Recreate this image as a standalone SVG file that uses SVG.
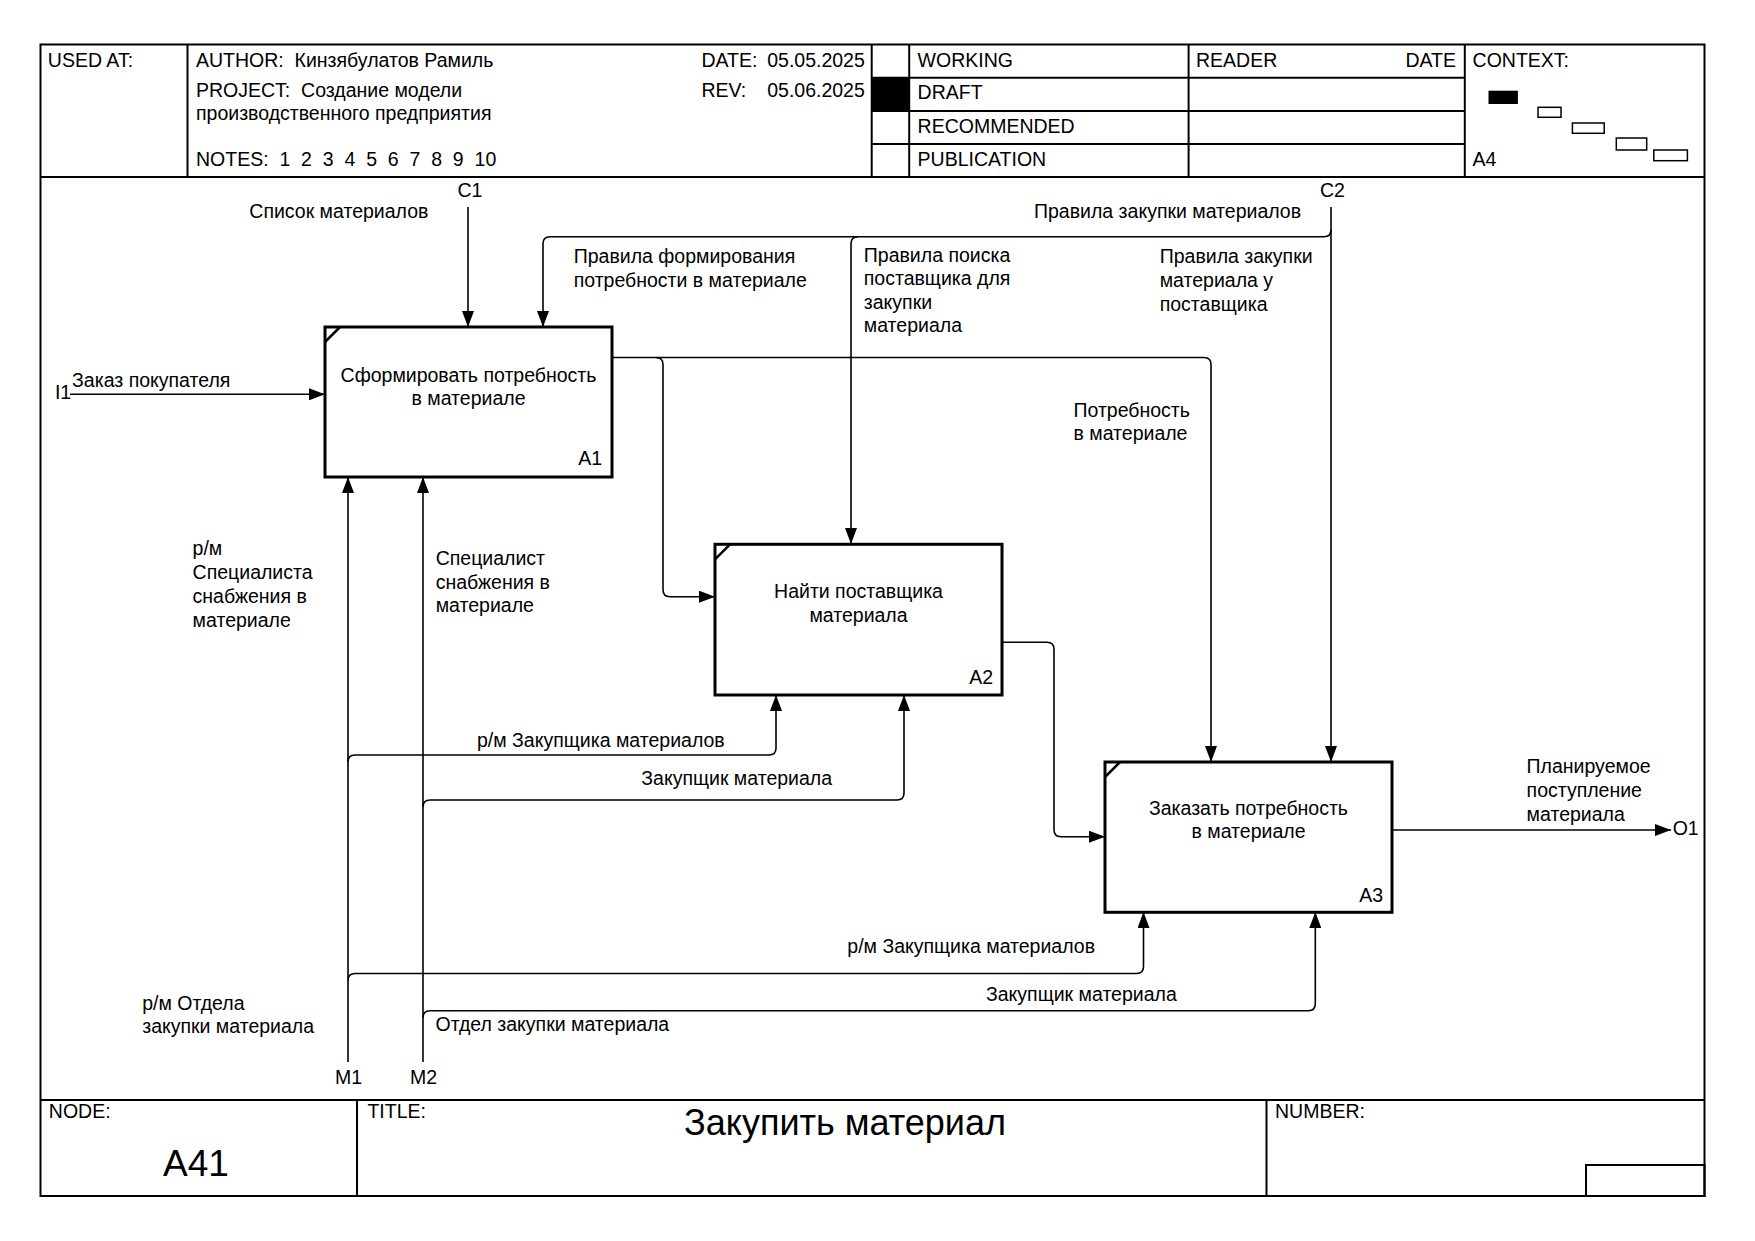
<svg xmlns="http://www.w3.org/2000/svg" width="1755" height="1241" viewBox="0 0 1755 1241">
<style>
text{font-family:"Liberation Sans",Arial,sans-serif;font-size:19.5px;fill:#000}
.frame{fill:none;stroke:#000;stroke-width:2}
.box{fill:#fff;stroke:#000;stroke-width:3}
.cn{fill:none;stroke:#000;stroke-width:1.6}
.ar{marker-end:url(#ah)}
.mid{text-anchor:middle}
.end{text-anchor:end}
</style>
<defs>
<marker id="ah" markerUnits="userSpaceOnUse" viewBox="0 0 16 12" refX="16" refY="6" markerWidth="16" markerHeight="12" orient="auto">
<path d="M0,0 L16,6 L0,12 Z" fill="#000"/>
</marker>
</defs>
<rect width="1755" height="1241" fill="#fff"/>
<g id="frame">
<rect class="frame" x="40.5" y="44.5" width="1664" height="1151.5"/>
<line class="frame" x1="40.5" y1="177" x2="1704.5" y2="177"/>
<line class="frame" x1="40.5" y1="1100" x2="1704.5" y2="1100"/>
<line class="frame" x1="187.5" y1="44.5" x2="187.5" y2="177"/>
<line class="frame" x1="871.7" y1="44.5" x2="871.7" y2="177"/>
<line class="frame" x1="909.2" y1="44.5" x2="909.2" y2="177"/>
<line class="frame" x1="1188.6" y1="44.5" x2="1188.6" y2="177"/>
<line class="frame" x1="1464.8" y1="44.5" x2="1464.8" y2="177"/>
<line class="frame" x1="871.7" y1="77.7" x2="1464.8" y2="77.7"/>
<line class="frame" x1="871.7" y1="111" x2="1464.8" y2="111"/>
<line class="frame" x1="871.7" y1="144" x2="1464.8" y2="144"/>
<rect x="871.7" y="77.7" width="37.5" height="33.3" fill="#000"/>
<line class="frame" x1="357" y1="1100" x2="357" y2="1196"/>
<line class="frame" x1="1266.5" y1="1100" x2="1266.5" y2="1196"/>
<rect class="frame" x="1586" y="1165" width="118.5" height="31"/>
<rect x="1488.5" y="90.7" width="29.4" height="13.3" fill="#000"/>
<rect x="1538" y="107.3" width="23" height="10" fill="none" stroke="#000" stroke-width="1.5"/>
<rect x="1572.4" y="123" width="31.8" height="10.3" fill="none" stroke="#000" stroke-width="1.5"/>
<rect x="1616.3" y="138" width="30.4" height="12" fill="none" stroke="#000" stroke-width="1.5"/>
<rect x="1653.8" y="150" width="33.6" height="10.7" fill="none" stroke="#000" stroke-width="1.5"/>
<text x="47.8" y="66.7">USED AT:</text>
<text x="196" y="66.7" xml:space="preserve">AUTHOR:  Кинзябулатов Рамиль</text>
<text x="196" y="96.7" xml:space="preserve">PROJECT:  Создание модели</text>
<text x="196" y="119.5">производственного предприятия</text>
<text x="196" y="165.7" xml:space="preserve">NOTES:  1  2  3  4  5  6  7  8  9  10</text>
<text x="701.4" y="66.7">DATE:</text>
<text x="767.2" y="66.7">05.05.2025</text>
<text x="701.4" y="96.7">REV:</text>
<text x="767.2" y="96.7">05.06.2025</text>
<text x="917.6" y="66.7">WORKING</text>
<text x="917.6" y="99.3">DRAFT</text>
<text x="917.6" y="132.7">RECOMMENDED</text>
<text x="917.6" y="165.7">PUBLICATION</text>
<text x="1196" y="66.7">READER</text>
<text x="1456" y="66.7" class="end">DATE</text>
<text x="1472.6" y="66.7">CONTEXT:</text>
<text x="1472.6" y="165.7">A4</text>
<text x="48.8" y="1118.3">NODE:</text>
<text x="367.4" y="1118.3">TITLE:</text>
<text x="1275" y="1118.3">NUMBER:</text>
<text x="196" y="1175.5" class="mid" style="font-size:37px">A41</text>
<text x="845" y="1134.5" class="mid" style="font-size:36px">Закупить материал</text>
</g>
<g id="connectors">
<path class="cn ar" d="M70,394.3 H325"/>
<path class="cn ar" d="M468,207 V327"/>
<path class="cn ar" d="M1331,207 V762"/>
<path class="cn ar" d="M1331,229.7 Q1331,236.7 1324,236.7 H550 Q543,236.7 543,243.7 V327"/>
<path class="cn ar" d="M858,236.7 Q851,236.7 851,243.7 V544"/>
<path class="cn ar" d="M612,357.5 H1204 Q1211,357.5 1211,364.5 V762"/>
<path class="cn ar" d="M656,357.5 Q663,357.5 663,364.5 V589.7 Q663,596.7 670,596.7 H715"/>
<path class="cn ar" d="M1002,642.3 H1047 Q1054,642.3 1054,649.3 V829.7 Q1054,836.7 1061,836.7 H1105"/>
<path class="cn ar" d="M1392,830 H1671"/>
<path class="cn ar" d="M348,1062 V477"/>
<path class="cn ar" d="M348,762 Q348,755 355,755 H769 Q776,755 776,748 V695"/>
<path class="cn ar" d="M348,980.5 Q348,973.5 355,973.5 H1136.5 Q1143.5,973.5 1143.5,966.5 V912"/>
<path class="cn ar" d="M423,1062 V477"/>
<path class="cn ar" d="M423,807 Q423,800 430,800 H897 Q904,800 904,793 V695"/>
<path class="cn ar" d="M423,1017.7 Q423,1010.7 430,1010.7 H1308.3 Q1315.3,1010.7 1315.3,1003.7 V912"/>
<text x="54.9" y="399.3">I1</text>
<text x="72.1" y="386.7">Заказ покупателя</text>
<text x="457.5" y="196.7">C1</text>
<text x="249.3" y="218.3">Список материалов</text>
<text x="1320" y="196.7">C2</text>
<text x="1034" y="218.3">Правила закупки материалов</text>
<text x="573.7" y="263.3">Правила формирования</text>
<text x="573.7" y="287">потребности в материале</text>
<text x="863.8" y="261.7">Правила поиска</text>
<text x="863.8" y="285.2">поставщика для</text>
<text x="863.8" y="308.7">закупки</text>
<text x="863.8" y="332.2">материала</text>
<text x="1159.7" y="263.3">Правила закупки</text>
<text x="1159.7" y="287.3">материала у</text>
<text x="1159.7" y="311.3">поставщика</text>
<text x="1073.5" y="416.7">Потребность</text>
<text x="1073.5" y="440">в материале</text>
<text x="1526.6" y="773.3">Планируемое</text>
<text x="1526.6" y="797">поступление</text>
<text x="1526.6" y="820.7">материала</text>
<text x="1672.7" y="835">O1</text>
<text x="192.6" y="555">р/м</text>
<text x="192.6" y="579.3">Специалиста</text>
<text x="192.6" y="603.3">снабжения в</text>
<text x="192.6" y="627.3">материале</text>
<text x="435.7" y="565">Специалист</text>
<text x="435.7" y="588.5">снабжения в</text>
<text x="435.7" y="612.3">материале</text>
<text x="477" y="746.7">р/м Закупщика материалов</text>
<text x="641.3" y="785">Закупщик материала</text>
<text x="847.3" y="952.7">р/м Закупщика материалов</text>
<text x="986" y="1001">Закупщик материала</text>
<text x="142.2" y="1010">р/м Отдела</text>
<text x="142.2" y="1033.3">закупки материала</text>
<text x="435.5" y="1030.7">Отдел закупки материала</text>
<text x="335" y="1084.3">M1</text>
<text x="410" y="1084.3">M2</text>
</g>
<g id="A1">
<rect class="box" x="325" y="327" width="287" height="150"/>
<line x1="325" y1="342" x2="340" y2="327" stroke="#000" stroke-width="2.5"/>
<text x="468.5" y="381.5" class="mid">Сформировать потребность</text>
<text x="468.5" y="404.5" class="mid">в материале</text>
<text x="602" y="465" class="end">A1</text>
</g>
<g id="A2">
<rect class="box" x="715" y="544.3" width="287" height="150.7"/>
<line x1="715" y1="559.3" x2="730" y2="544.3" stroke="#000" stroke-width="2.5"/>
<text x="858.5" y="598.3" class="mid">Найти поставщика</text>
<text x="858.5" y="621.5" class="mid">материала</text>
<text x="993" y="684" class="end">A2</text>
</g>
<g id="A3">
<rect class="box" x="1105" y="762" width="287" height="150.3"/>
<line x1="1105" y1="777" x2="1120" y2="762" stroke="#000" stroke-width="2.5"/>
<text x="1248.5" y="815" class="mid">Заказать потребность</text>
<text x="1248.5" y="838" class="mid">в материале</text>
<text x="1383" y="901.5" class="end">A3</text>
</g>
</svg>
